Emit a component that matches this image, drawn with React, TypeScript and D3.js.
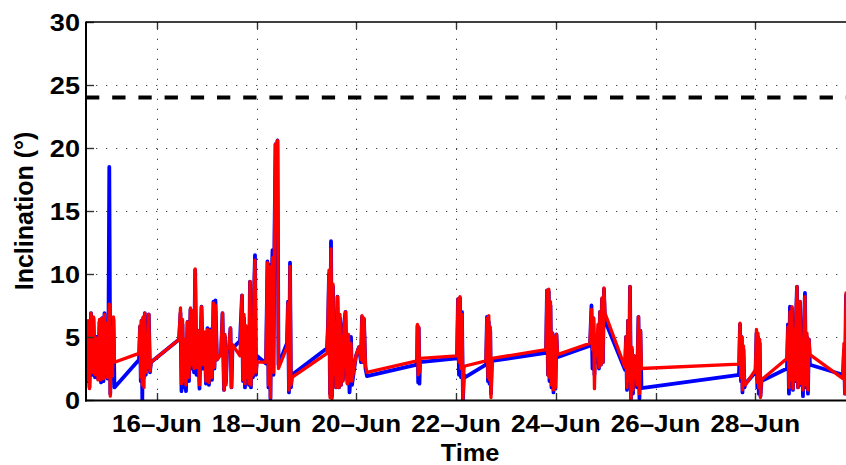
import React, { useEffect, useRef } from "react";
import * as d3 from "d3";

// Sample times, in fractional days of June 2013
const sampleDays = [
  // 14-15 Jun
  14.58, 14.6, 14.62, 14.65, 14.68, 14.71, 14.73, 14.76, 14.791, 14.821, 14.851, 14.881, 14.901,
  14.931, 14.951, 14.971, 14.991, 15.011, 15.031, 15.047, 15.067, 15.091, 15.111, 15.131, 15.151,
  // 15 Jun
  15.643, 15.663, 15.679, 15.693, 15.709, 15.727, 15.743, 15.759, 15.779, 15.799, 15.819, 15.839,
  15.863, 15.883,
  // 16-17 Jun
  16.445, 16.475, 16.495, 16.515, 16.535, 16.555, 16.585, 16.615, 16.645, 16.675, 16.695, 16.725,
  16.745, 16.769, 16.795, 16.826, 16.856, 16.896, 16.926, 16.956, 16.986, 17.016, 17.046, 17.076,
  17.106, 17.136, 17.156, 17.176, 17.206, 17.246, 17.287, 17.317, 17.347, 17.367, 17.387, 17.407,
  17.447, 17.477, 17.497, 17.517,
  // 17-18 Jun
  17.668, 17.708, 17.728, 17.748, 17.768, 17.788, 17.808, 17.828, 17.848, 17.868, 17.888, 17.908,
  17.929, 17.949, 17.969, 17.989, 18.009, 18.189, 18.219, 18.239, 18.259, 18.279, 18.299, 18.32,
  18.34, 18.36, 18.38, 18.4, 18.42, 18.44, 18.61, 18.63, 18.65, 18.671, 18.691, 18.711,
  // 19-20 Jun
  19.413, 19.433, 19.453, 19.473, 19.493, 19.513, 19.533, 19.553, 19.573, 19.593, 19.623, 19.653,
  19.673, 19.693, 19.713, 19.733, 19.753, 19.784, 19.804, 19.824, 19.844, 19.864, 19.884, 19.894,
  19.914, 19.994, 20.054, 20.094, 20.114, 20.134, 20.154, 20.184, 20.214,
  // 21 Jun
  21.217, 21.227, 21.241, 21.253, 21.267, 21.277,
  // 22 Jun
  22.019, 22.039, 22.059, 22.079, 22.099, 22.119, 22.139, 22.159, 22.179,
  22.601, 22.621, 22.641, 22.657, 22.671, 22.687, 22.701, 22.721,
  // 23-24 Jun
  23.804, 23.824, 23.844, 23.86, 23.874, 23.894, 23.914, 23.934, 23.954, 23.974, 23.994, 24.014,
  24.034,
  // 24-25 Jun
  24.686, 24.716, 24.736, 24.756, 24.776, 24.796, 24.816, 24.846, 24.866, 24.886, 24.906, 24.926,
  24.946, 24.966, 24.986,
  25.388, 25.408, 25.428, 25.448, 25.468, 25.488, 25.508, 25.528, 25.548, 25.568, 25.588, 25.608,
  25.628, 25.658, 25.678, 25.698, 25.718,
  // 27-28 Jun
  27.674, 27.694, 27.714, 27.73, 27.744, 27.764, 27.784, 27.804,
  28.005, 28.025, 28.041, 28.055, 28.071, 28.089, 28.105, 28.125,
  // 28-29 Jun
  28.636, 28.656, 28.676, 28.696, 28.716, 28.736, 28.756, 28.776, 28.796, 28.817, 28.837, 28.857,
  28.877, 28.897, 28.917, 28.937, 28.957, 28.977, 28.997, 29.017, 29.037, 29.057, 29.077, 29.097,
  29.759, 29.779, 29.799, 29.819, 29.839,
];

// Inclination, first sensor (blue), degrees
const inclinationBlue = [
  5.2, 1.5, 6.0, 1.0, 6.9, 2.0, 6.5, 1.8, 5.0, 1.7, 6.2, 1.4, 6.5,
  1.5, 6.9, 2.0, 6.1, 1.7, 5.8, 18.5, 0.5, 5.5, 1.8, 6.4, 1.0,
  3.2, 5.8, 1.5, 6.3, 0.0, 6.5, 1.8, 6.9, 2.0, 5.5, 2.5, 6.8,
  2.2, 3.0,
  4.8, 6.9, 0.7, 6.0, 1.0, 4.5, 0.7, 6.2, 1.5, 7.2, 2.5, 7.0,
  2.2, 10.3, 2.0, 5.5, 0.9, 7.4, 2.5, 5.2, 1.3, 5.7, 1.2, 5.6,
  1.6, 7.8, 2.5, 7.9, 3.2, 3.5, 3.6, 6.9, 0.8, 5.0, 1.4, 3.8,
  4.0, 5.7, 1.0, 4.1,
  4.7, 8.3, 1.5, 6.5, 1.0, 5.8, 1.7, 3.8, 1.2, 9.4, 1.0, 6.0,
  1.8, 8.5, 11.5, 2.0, 3.5, 2.9, 11.0, 1.0, 10.7, 0.1, 9.0, 11.9,
  2.0, 13.0, 20.3, 19.6, 20.6, 2.8, 4.5, 7.8, 0.6, 10.9, 1.0, 2.0,
  4.1, 6.0, 10.0, 0.5, 12.6, 0.3, 9.0, 2.0, 6.5, 1.0, 8.2, 1.0,
  6.5, 1.2, 5.0, 1.6, 6.0, 7.0, 2.5, 1.3, 5.0, 0.6, 1.8, 5.0,
  1.2, 3.5, 4.2, 3.0, 6.6, 3.0, 6.4, 2.5, 1.9,
  2.8, 5.9, 1.4, 5.7, 1.3, 3.0,
  3.3, 8.0, 2.0, 8.1, 1.8, 7.0, 0.0, 2.0, 1.8,
  2.8, 6.6, 1.5, 6.2, 1.3, 5.5, 0.5, 3.1,
  3.75, 8.7, 2.0, 8.6, 1.5, 7.5, 1.0, 5.3, 0.6, 4.8, 0.9, 5.2,
  3.4,
  4.3, 7.5, 2.5, 6.5, 2.0, 5.0, 3.0, 5.5, 2.5, 7.0, 2.8, 8.0,
  3.0, 8.8, 6.3,
  2.4, 5.0, 0.8, 6.3, 1.0, 9.0, 0.1, 4.0, 0.5, 3.5, 1.5, 3.0,
  1.0, 6.6, 0.1, 5.5, 0.95,
  2.0, 6.0, 1.5, 5.0, 0.6, 4.0, 1.0, 1.3,
  2.2, 5.3, 1.0, 5.0, 0.5, 4.5, 0.3, 1.5,
  2.5, 6.0, 0.5, 7.4, 1.5, 7.3, 0.8, 5.5, 1.5, 6.5, 9.0, 1.0,
  7.0, 7.8, 1.2, 4.5, 0.3, 6.0, 8.5, 1.0, 5.0, 0.5, 4.8, 2.8,
  2.0, 4.0, 0.5, 8.3, 2.0,
];

// Inclination, second sensor (red), degrees
const inclinationRed = [
  5.0, 1.6, 6.3, 0.9, 6.9, 2.2, 6.6, 2.0, 4.9, 1.6, 6.4, 1.6, 6.5,
  1.7, 6.8, 2.1, 6.1, 1.8, 5.9, 7.6, 0.3, 5.8, 1.9, 6.6, 3.0,
  3.7, 5.9, 1.8, 6.3, 1.2, 6.6, 1.0, 6.9, 2.2, 5.2, 2.6, 6.8,
  2.3, 3.0,
  4.8, 7.3, 1.3, 6.4, 1.5, 4.8, 1.2, 6.2, 1.8, 7.3, 2.8, 7.1,
  2.5, 10.4, 2.6, 5.5, 1.2, 7.4, 2.8, 5.4, 1.5, 5.6, 1.4, 5.5,
  1.8, 7.7, 2.6, 7.5, 3.2, 3.4, 3.7, 6.9, 0.8, 5.2, 1.2, 4.0,
  4.2, 5.7, 1.0, 4.4,
  3.5, 8.3, 1.6, 6.8, 1.3, 5.9, 1.8, 4.0, 1.3, 9.4, 1.2, 6.2,
  2.0, 8.6, 11.1, 2.2, 3.0, 3.0, 10.9, 1.2, 10.6, 0.2, 8.5, 11.3,
  2.2, 13.0, 20.3, 19.6, 20.6, 2.5, 4.2, 7.7, 0.8, 10.6, 1.2, 1.8,
  3.7, 6.2, 10.3, 0.2, 12.0, 0.1, 9.2, 2.0, 6.2, 1.0, 8.2, 1.0,
  6.8, 1.2, 5.0, 1.5, 5.8, 7.0, 2.5, 1.3, 5.2, 1.5, 1.8, 4.5,
  1.5, 3.5, 4.2, 3.2, 6.7, 3.0, 6.5, 2.7, 2.2,
  3.1, 6.0, 2.0, 5.8, 2.2, 3.3,
  3.5, 8.0, 3.0, 8.2, 2.5, 6.8, 0.1, 2.5, 2.7,
  3.1, 6.5, 1.8, 6.7, 1.6, 5.8, 0.2, 3.3,
  4.0, 8.7, 2.0, 8.8, 1.8, 7.8, 1.2, 5.3, 0.8, 5.0, 1.0, 5.2,
  3.6,
  4.5, 7.2, 4.0, 6.5, 0.9, 5.0, 3.5, 6.0, 2.6, 7.0, 2.8, 8.1,
  3.0, 8.9, 6.9,
  2.6, 5.0, 1.0, 6.3, 1.5, 9.0, 0.1, 4.2, 0.8, 3.5, 1.8, 2.8,
  1.2, 6.6, 0.5, 5.5, 2.5,
  2.85, 6.1, 1.8, 5.0, 0.8, 4.3, 1.2, 1.2,
  2.4, 5.6, 1.4, 5.3, 1.0, 4.8, 0.2, 1.6,
  3.3, 5.8, 1.0, 7.0, 1.6, 7.4, 0.9, 5.6, 1.6, 6.6, 9.0, 1.0,
  7.0, 7.8, 1.3, 4.8, 0.8, 5.8, 8.2, 1.2, 5.3, 0.8, 4.8, 3.6,
  1.7, 4.5, 0.5, 8.5, 2.0,
];

const yTicks = [0, 5, 10, 15, 20, 25, 30];
const tickDays = [16, 18, 20, 22, 24, 26, 28];
const limitAngle = 24;
const dayDomain = [14.58, 29.86];
const angleDomain = [0, 30];

const W = 846;
const H = 465;
const plot = { left: 86, right: 848, top: 22, bottom: 400 };
const FONT = "'Liberation Sans', Arial, Helvetica, sans-serif";

const juneStart = new Date(2013, 5, 1).getTime();
const toDate = (d: number) => new Date(juneStart + (d - 1) * 864e5);

export default function App() {
  const ref = useRef<SVGSVGElement>(null);

  useEffect(() => {
    const svg = d3.select(ref.current);
    svg.selectAll("*").remove();

    const x = d3
      .scaleTime()
      .domain(dayDomain.map(toDate))
      .range([plot.left, plot.right]);
    const y = d3.scaleLinear().domain(angleDomain).range([plot.bottom, plot.top]);
    const fmt = d3.timeFormat("%d\u2013%b");

    svg.append("rect").attr("width", W).attr("height", H).attr("fill", "#fff");

    svg
      .append("clipPath")
      .attr("id", "plot-clip")
      .append("rect")
      .attr("x", plot.left)
      .attr("y", plot.top - 2)
      .attr("width", plot.right - plot.left)
      .attr("height", plot.bottom - plot.top + 3);

    // dotted grid
    const grid = svg.append("g").attr("stroke", "#444").attr("stroke-width", 1).attr("stroke-dasharray", "1.3 8.7");
    tickDays.forEach((d) => {
      const px = Math.round(x(toDate(d))) + 0.5;
      grid.append("line").attr("x1", px).attr("x2", px).attr("y1", plot.bottom).attr("y2", plot.top);
    });
    yTicks.slice(1, -1).forEach((v) => {
      const py = Math.round(y(v)) + 0.5;
      grid.append("line").attr("x1", plot.left).attr("x2", plot.right).attr("y1", py).attr("y2", py);
    });

    const series = sampleDays.map((d, i) => ({ t: toDate(d), b: inclinationBlue[i], r: inclinationRed[i] }));
    const lineB = d3
      .line<{ t: Date; b: number; r: number }>()
      .x((p) => x(p.t))
      .y((p) => y(p.b));
    const lineR = d3
      .line<{ t: Date; b: number; r: number }>()
      .x((p) => x(p.t))
      .y((p) => y(p.r));

    const data = svg.append("g").attr("clip-path", "url(#plot-clip)");
    data
      .append("path")
      .datum(series)
      .attr("d", lineB)
      .attr("fill", "none")
      .attr("stroke", "#0000ff")
      .attr("stroke-width", 3.8)
      .attr("stroke-linejoin", "round");
    data
      .append("path")
      .datum(series)
      .attr("d", lineR)
      .attr("fill", "none")
      .attr("stroke", "#ff0000")
      .attr("stroke-width", 3.3)
      .attr("stroke-linejoin", "round");

    // limit line
    data
      .append("line")
      .attr("x1", plot.left)
      .attr("x2", plot.right)
      .attr("y1", y(limitAngle))
      .attr("y2", y(limitAngle))
      .attr("stroke", "#000")
      .attr("stroke-width", 4)
      .attr("stroke-dasharray", "13.3 12.9");

    // ticks
    const ticks = svg.append("g").attr("stroke", "#333").attr("stroke-width", 1.4);
    tickDays.forEach((d) => {
      const px = Math.round(x(toDate(d))) + 0.5;
      ticks.append("line").attr("x1", px).attr("x2", px).attr("y1", plot.bottom).attr("y2", plot.bottom - 7);
      ticks.append("line").attr("x1", px).attr("x2", px).attr("y1", plot.top).attr("y2", plot.top + 7);
    });
    yTicks.forEach((v) => {
      const py = Math.round(y(v)) + 0.5;
      ticks.append("line").attr("x1", plot.left).attr("x2", plot.left + 8).attr("y1", py).attr("y2", py);
    });

    // axes frame
    const frame = svg.append("g").attr("stroke", "#000");
    frame.append("line").attr("x1", plot.left).attr("x2", plot.right).attr("y1", plot.top).attr("y2", plot.top).attr("stroke-width", 1.5);
    frame.append("line").attr("x1", plot.left - 1).attr("x2", plot.right).attr("y1", plot.bottom + 0.5).attr("y2", plot.bottom + 0.5).attr("stroke-width", 2);
    frame.append("line").attr("x1", plot.left).attr("x2", plot.left).attr("y1", plot.top - 0.5).attr("y2", plot.bottom + 1.5).attr("stroke-width", 2);

    // labels
    const labels = svg.append("g").attr("font-family", FONT).attr("font-weight", "bold").attr("fill", "#000");
    yTicks.forEach((v) => {
      labels
        .append("text")
        .attr("transform", `translate(80,${y(v) + 8.6}) scale(1.13,1)`)
        .attr("text-anchor", "end")
        .attr("font-size", 24)
        .text(String(v));
    });
    tickDays.forEach((d) => {
      labels
        .append("text")
        .attr("transform", `translate(${x(toDate(d))},432) scale(1.13,1)`)
        .attr("text-anchor", "middle")
        .attr("font-size", 23)
        .text(fmt(toDate(d)));
    });
    labels
      .append("text")
      .attr("transform", `translate(470,461) scale(1.08,1)`)
      .attr("text-anchor", "middle")
      .attr("font-size", 23.5)
      .text("Time");
    labels
      .append("text")
      .attr("transform", `translate(33,${(plot.top + plot.bottom) / 2}) rotate(-90)`)
      .attr("text-anchor", "middle")
      .attr("font-size", 25)
      .text("Inclination (\u00b0)");
  }, []);

  return (
    <svg
      ref={ref}
      width={W}
      height={H}
      style={{ position: "absolute", left: 0, top: 0, display: "block" }}
    />
  );
}
